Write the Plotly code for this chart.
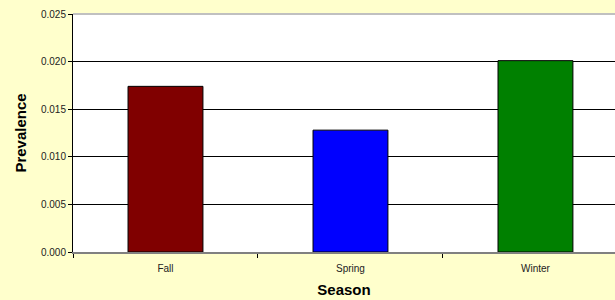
import plotly.graph_objects as go

seasons = ["Fall", "Spring", "Winter"]
prevalence = [0.0174, 0.0128, 0.0201]
bar_colors = ["#800000", "#0000FF", "#008000"]
y_ticks = [0.000, 0.005, 0.010, 0.015, 0.020, 0.025]

fig = go.Figure()
fig.add_trace(go.Bar(
    x=seasons, y=prevalence,
    marker=dict(color=bar_colors, line=dict(color="#000000", width=1)),
    width=0.405,
))

fig.update_layout(
    width=615, height=300,
    margin=dict(l=73, r=0, t=14, b=48),
    paper_bgcolor="#FFFFCC",
    plot_bgcolor="#FFFFFF",
    showlegend=False,
    font=dict(family="Liberation Sans, Arial, sans-serif", color="#000000"),
)
fig.update_xaxes(
    range=[-0.5, 2.43],
    tickson="boundaries", ticks="outside", ticklen=4, tickcolor="#000000",
    showline=True, linecolor="#808080", linewidth=1.5,
    showgrid=False,
    tickfont=dict(size=10, color="#222222"),
    ticklabelstandoff=6,
    title=dict(text="<b>Season</b>", font=dict(size=15), standoff=12),
)
fig.update_yaxes(
    range=[0, 0.025],
    tickvals=y_ticks, tickformat=".3f",
    ticks="outside", ticklen=4, tickcolor="#000000",
    showline=True, linecolor="#000000", linewidth=1,
    showgrid=True, gridcolor="#000000", gridwidth=1,
    zeroline=False,
    tickfont=dict(size=10, color="#222222"),
    title=dict(text="<b>Prevalence</b>", font=dict(size=15), standoff=10),
)
fig.add_shape(type="line", xref="paper", yref="paper", x0=0, x1=1, y0=1, y1=1,
              line=dict(color="#C0C0C0", width=2))

fig.write_html("out.html", config={"displayModeBar": False},
               post_script="document.body.style.margin='0';")
